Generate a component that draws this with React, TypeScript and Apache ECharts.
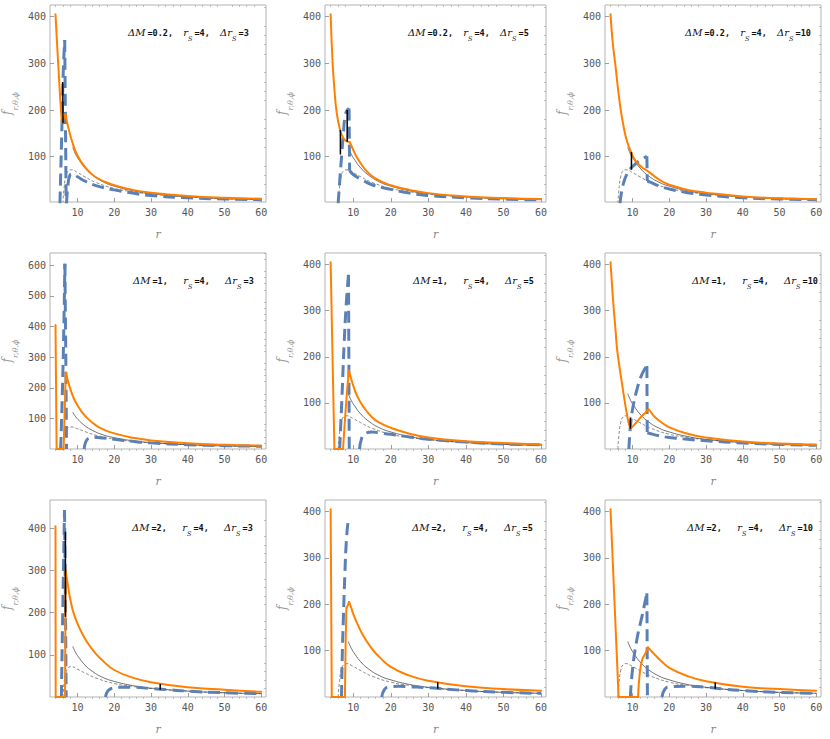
import React, { useEffect, useRef } from "react";
import * as echarts from "echarts";

type Pt = [number, number];
type Seg = Pt[];

// ---- tick labels ----
const X_TICK_LABELS = [10, 20, 30, 40, 50, 60];
const X_MINOR_TICKS = [4, 6, 8, 12, 14, 16, 18, 22, 24, 26, 28, 32, 34, 36, 38, 42, 44, 46, 48, 52, 54, 56, 58];
const Y_TICK_LABELS_400 = [100, 200, 300, 400];
const Y_TICK_LABELS_600 = [100, 200, 300, 400, 500, 600];
const Y_MINOR_400 = [20, 40, 60, 80, 120, 140, 160, 180, 220, 240, 260, 280, 320, 340, 360, 380, 420];
const Y_MINOR_600 = [20, 40, 60, 80, 120, 140, 160, 180, 220, 240, 260, 280, 320, 340, 360, 380, 420, 440, 460, 480, 520, 540, 560, 580, 620, 640];

// ---- common thin curves ----
const THIN_SOLID: Pt[] = [[8.7, 120], [9.5, 105], [10.5, 92], [12, 76], [14, 61], [17, 46], [20, 37], [25, 27], [30, 21], [40, 14], [50, 10], [60, 8]];
const THIN_DASHED: Pt[] = [[6.0, 0], [6.3, 30], [6.8, 58], [7.5, 70], [8.3, 72], [10, 66], [12, 57], [15, 45], [20, 32], [25, 25], [30, 20], [40, 14], [50, 10], [60, 8]];

// ---- ΔM = 0.2, Δrs = 3 ----
const orangeM02R3: Seg[] = [
  [[4, 405], [4.4, 345], [4.8, 290], [5.3, 222], [5.75, 172]],
  [[5.75, 172], [6.7, 191]],
  [[6.7, 191], [7.5, 162], [8.5, 133], [10, 102], [12, 78], [15, 56], [20, 39], [25, 29], [30, 23], [40, 16], [50, 12], [60, 10]],
];
const blueM02R3: Seg[] = [
  [[5.2, 0], [5.7, 150], [6.1, 280], [6.5, 350]],
  [[6.5, 350], [6.7, 180], [6.9, 0]],
  [[7.0, 0], [7.4, 40], [7.9, 60], [8.6, 63], [10, 57], [12, 48], [15, 38], [20, 29], [25, 22], [30, 17], [40, 12], [50, 9.5], [60, 8]],
];
const blackM02R3: Seg[] = [[[5.95, 260], [6.05, 171]]];

// ---- ΔM = 0.2, Δrs = 5 ----
const orangeM02R5: Seg[] = [
  [[4, 405], [4.5, 305], [5.0, 245], [5.6, 195], [6.5, 157], [7.2, 143], [7.8, 136], [8.7, 132], [9.1, 131]],
  [[9.1, 131], [10, 115], [10.9, 100], [12, 86], [13.5, 70], [16, 53], [20, 39], [25, 29], [30, 22], [40, 15], [50, 11.5], [60, 9.5]],
];
const blueM02R5: Seg[] = [
  [[6.0, 0], [6.5, 57], [7.0, 110], [7.4, 150], [7.8, 185], [8.3, 198], [8.9, 203]],
  [[8.9, 203], [9.05, 70]],
  [[9.05, 70], [10, 62], [12, 52], [15, 40], [20, 30], [25, 22], [30, 17], [40, 12], [50, 9], [60, 7.5]],
];
const blackM02R5: Seg[] = [[[6.6, 157], [6.6, 105]], [[8.4, 200], [8.4, 132]]];

// ---- ΔM = 0.2, Δrs = 10 ----
const orangeM02R10: Seg[] = [
  [[4, 405], [4.6, 345], [5.35, 295], [6.0, 248], [6.7, 205], [7.6, 163], [8.5, 133], [9.7, 108], [10.5, 95], [11.5, 85], [12.6, 77], [13.6, 72], [14.5, 67], [16, 58], [18, 47], [20, 40], [25, 29], [30, 23], [40, 15], [50, 11], [60, 9]],
];
const blueM02R10: Seg[] = [
  [[6.6, 0], [7.0, 25], [7.6, 45], [8.3, 60], [9.2, 72], [10, 79], [11, 86], [12, 92], [13, 97], [13.9, 101]],
  [[13.9, 101], [14.0, 48]],
  [[14.0, 48], [15, 45], [17, 38], [20, 31], [25, 23], [30, 18], [40, 12], [50, 9.5], [60, 8]],
];
const blackM02R10: Seg[] = [[[9.7, 110], [9.7, 72]]];

// ---- ΔM = 1, Δrs = 3 ----
const orangeM1R3: Seg[] = [
  [[4, 405], [4.3, 0]],
  [[4.3, 0], [6.2, 0]],
  [[6.2, 0], [6.8, 250]],
  [[6.8, 250], [7.3, 226], [8.2, 190], [9, 165], [10, 142], [11, 124], [12.7, 100], [15, 77], [17, 64], [20, 51], [25, 37], [30, 28], [40, 19], [50, 14], [60, 11]],
];
const blueM1R3: Seg[] = [
  [[5.4, 0], [5.9, 200], [6.3, 420], [6.55, 605]],
  [[6.55, 605], [6.8, 300], [7.0, 0]],
  [[11.8, 0], [12.2, 22], [13, 35], [14.5, 38], [17, 36], [20, 32], [25, 25], [30, 20], [40, 14], [50, 11], [60, 9]],
];
const blackM1R3: Seg[] = [];

// ---- ΔM = 1, Δrs = 5 ----
const orangeM1R5: Seg[] = [
  [[4, 405], [5.0, 0]],
  [[5.0, 0], [7.3, 0]],
  [[7.3, 0], [7.8, 62], [8.3, 118], [8.85, 170]],
  [[8.85, 170], [9.5, 151], [10, 138], [11, 116], [12.6, 93], [15, 69], [17, 57], [20, 46], [25, 33], [30, 25], [40, 17], [50, 13], [60, 10]],
];
const blueM1R5: Seg[] = [
  [[6.4, 0], [7.0, 110], [7.6, 230], [8.2, 320], [8.75, 378]],
  [[8.75, 378], [8.95, 0]],
  [[11.7, 0], [12.2, 22], [13, 32], [15, 37], [17, 35], [20, 32], [25, 26], [30, 21], [40, 15], [50, 11], [60, 9]],
];
const blackM1R5: Seg[] = [];

// ---- ΔM = 1, Δrs = 10 ----
const orangeM1R10: Seg[] = [
  [[4, 405], [4.5, 345], [4.9, 302], [5.4, 255], [5.8, 216], [6.5, 175], [7.2, 138], [7.9, 102], [8.5, 74], [9.0, 54], [9.5, 44]],
  [[9.5, 44], [10.5, 53], [11.5, 62], [12.5, 71], [13.5, 79], [14.3, 86]],
  [[14.3, 86], [15, 80], [16, 70], [18, 57], [20, 47], [25, 33], [30, 25], [40, 16], [50, 12], [60, 9]],
];
const blueM1R10: Seg[] = [
  [[9.0, 0], [9.5, 55], [10.2, 95], [11.2, 129], [12.2, 155], [13.2, 172], [13.9, 180]],
  [[13.9, 180], [14.0, 35]],
  [[14.0, 35], [15, 33], [17, 29], [20, 25], [25, 21], [30, 18], [40, 13], [50, 10], [60, 8]],
];
const blackM1R10: Seg[] = [[[9.4, 68], [9.4, 44]]];

// ---- ΔM = 2, Δrs = 3 ----
const orangeM2R3: Seg[] = [
  [[4, 405], [4.05, 0]],
  [[4.05, 0], [6.6, 0]],
  [[6.6, 0], [6.75, 300]],
  [[6.75, 300], [7.5, 258], [8.2, 224], [9, 197], [10, 174], [11, 155], [12.7, 129], [15, 102], [17, 85], [20, 64], [25, 46], [30, 35], [40, 23], [50, 17], [60, 12.5]],
];
const blueM2R3: Seg[] = [
  [[5.6, 0], [6.0, 220], [6.45, 443]],
  [[6.45, 443], [6.7, 220], [6.9, 0]],
  [[17.6, 0], [18.3, 15], [19.5, 21], [22, 23], [25, 23], [30, 20], [35, 17], [40, 14], [50, 10], [60, 8]],
];
const blackM2R3: Seg[] = [[[6.7, 392], [6.7, 190]], [[32.5, 31], [32.5, 17]]];

// ---- ΔM = 2, Δrs = 5 ----
const orangeM2R5: Seg[] = [
  [[4, 405], [4.3, 0]],
  [[4.3, 0], [7.8, 0]],
  [[7.8, 0], [8.0, 120], [8.2, 192]],
  [[8.2, 192], [8.6, 198], [8.9, 205]],
  [[8.9, 205], [9.5, 192], [10, 180], [11, 160], [12.7, 132], [15, 104], [17, 86], [20, 65], [25, 46], [30, 35], [40, 23], [50, 17], [60, 13.5]],
];
const blueM2R5: Seg[] = [
  [[6.9, 0], [7.1, 90], [7.35, 160], [7.8, 268], [8.2, 339], [8.7, 382], [8.9, 385]],
  [[17.6, 0], [18.3, 16], [19.5, 22], [22, 23], [25, 22], [30, 20], [35, 17], [40, 14], [50, 10], [60, 8]],
];
const blackM2R5: Seg[] = [[[32.5, 32], [32.5, 18]]];

// ---- ΔM = 2, Δrs = 10 ----
const orangeM2R10: Seg[] = [
  [[4, 405], [6.2, 0]],
  [[6.2, 0], [11.5, 0]],
  [[11.5, 0], [11.9, 46], [12.6, 80], [13.5, 94], [14.2, 107]],
  [[14.2, 107], [15, 100], [16.2, 90], [18, 76], [20, 63], [25, 45], [30, 34], [40, 22], [50, 17], [60, 13.5]],
];
const blueM2R10: Seg[] = [
  [[9.4, 0], [10, 60], [11.2, 125], [12.6, 175], [13.9, 224]],
  [[13.9, 224], [14.05, 0]],
  [[18, 0], [18.8, 17], [20, 22], [25, 23], [30, 21], [35, 17], [40, 14], [50, 10], [60, 8]],
];
const blackM2R10: Seg[] = [[[32.5, 32], [32.5, 18]]];

const PANELS = [
  { dm: "0.2", drs: "3", orange: orangeM02R3, blue: blueM02R3, black: blackM02R3, yMin: 3, yMax: 425, yLabels: Y_TICK_LABELS_400, yMinor: Y_MINOR_400 },
  { dm: "0.2", drs: "5", orange: orangeM02R5, blue: blueM02R5, black: blackM02R5, yMin: 3, yMax: 425, yLabels: Y_TICK_LABELS_400, yMinor: Y_MINOR_400 },
  { dm: "0.2", drs: "10", orange: orangeM02R10, blue: blueM02R10, black: blackM02R10, yMin: 3, yMax: 425, yLabels: Y_TICK_LABELS_400, yMinor: Y_MINOR_400 },
  { dm: "1", drs: "3", orange: orangeM1R3, blue: blueM1R3, black: blackM1R3, yMin: 0, yMax: 640, yLabels: Y_TICK_LABELS_600, yMinor: Y_MINOR_600 },
  { dm: "1", drs: "5", orange: orangeM1R5, blue: blueM1R5, black: blackM1R5, yMin: 0, yMax: 425, yLabels: Y_TICK_LABELS_400, yMinor: Y_MINOR_400 },
  { dm: "1", drs: "10", orange: orangeM1R10, blue: blueM1R10, black: blackM1R10, yMin: 0, yMax: 425, yLabels: Y_TICK_LABELS_400, yMinor: Y_MINOR_400 },
  { dm: "2", drs: "3", orange: orangeM2R3, blue: blueM2R3, black: blackM2R3, yMin: 0, yMax: 467, yLabels: Y_TICK_LABELS_400, yMinor: Y_MINOR_400 },
  { dm: "2", drs: "5", orange: orangeM2R5, blue: blueM2R5, black: blackM2R5, yMin: 0, yMax: 425, yLabels: Y_TICK_LABELS_400, yMinor: Y_MINOR_400 },
  { dm: "2", drs: "10", orange: orangeM2R10, blue: blueM2R10, black: blackM2R10, yMin: 0, yMax: 425, yLabels: Y_TICK_LABELS_400, yMinor: Y_MINOR_400 },
];

const ROW_TOP = [5, 253, 500];
const ROW_H = [197, 196, 197];
const COL_LEFT = [45, 325, 605];
const COL_W = [221, 221, 216];
// annotation offsets from each frame's left edge, per row and column
const NOTE_DX = [[83, 83, 80], [88, 88, 87], [87, 87, 82]];
const X_MIN = 2.5;
const X_MAX = 61.3;

const ORANGE = "#ff8000";
const BLUE = "#5b80b6";
const FRAME = "#b3b3b3";
const TICK_TXT = "#555555";
const MONO = "DejaVu Sans Mono";
const SERIF = "DejaVu Serif";
const SMOOTH = 0.5;
const THIN = "\u2009";

function buildOption() {
  const grid: any[] = [];
  const xAxis: any[] = [];
  const yAxis: any[] = [];
  const series: any[] = [];
  const graphic: any[] = [];

  PANELS.forEach((p, i) => {
    const r = Math.floor(i / 3);
    const c = i % 3;
    grid.push({
      left: COL_LEFT[c], top: ROW_TOP[r], width: COL_W[c], height: ROW_H[r],
      show: true, borderColor: FRAME, borderWidth: 1, backgroundColor: "transparent", containLabel: false,
    });
    xAxis.push({
      type: "value", gridIndex: i, min: X_MIN, max: X_MAX,
      axisLine: { show: false }, splitLine: { show: false },
      axisTick: { show: true, inside: true, length: 4, customValues: X_TICK_LABELS, lineStyle: { color: "#888", width: 0.8 } },
      axisLabel: { customValues: X_TICK_LABELS, fontFamily: MONO, fontSize: 10, color: TICK_TXT, margin: 5 },
      name: "r", nameLocation: "middle", nameGap: 27,
      nameTextStyle: { fontFamily: SERIF, fontStyle: "italic", fontSize: 11, color: "#888" },
    });
    yAxis.push({
      type: "value", gridIndex: i, min: p.yMin, max: p.yMax,
      axisLine: { show: false }, splitLine: { show: false },
      axisTick: { show: true, inside: true, length: 4, customValues: p.yLabels, lineStyle: { color: "#888", width: 0.8 } },
      axisLabel: { customValues: p.yLabels, fontFamily: MONO, fontSize: 10, color: TICK_TXT, margin: 4 },
      name: "{f|f}{s|r,θ,ϕ}", nameLocation: "middle", nameGap: 31,
      nameTextStyle: {
        color: "#999",
        rich: {
          f: { fontFamily: SERIF, fontStyle: "italic", fontSize: 12, color: "#999", lineHeight: 18, verticalAlign: "top" },
          s: { fontFamily: SERIF, fontStyle: "italic", fontSize: 8, color: "#999", lineHeight: 18, verticalAlign: "bottom" },
        },
      },
    });

    const ax = { xAxisIndex: i, yAxisIndex: i };
    const base = { type: "line", showSymbol: false, symbol: "none", silent: true, clip: true, ...ax };
    series.push({ ...base, data: THIN_DASHED, smooth: SMOOTH, lineStyle: { color: "#555", width: 0.7, type: [3, 2] } });
    series.push({ ...base, data: THIN_SOLID, smooth: SMOOTH, lineStyle: { color: "#333", width: 0.7 } });
    p.blue.forEach((seg) => {
      series.push({ ...base, data: seg, smooth: seg.length > 2 ? SMOOTH : false, lineStyle: { color: BLUE, width: 3, type: [12, 6] } });
    });
    p.orange.forEach((seg) => {
      series.push({ ...base, data: seg, smooth: seg.length > 2 ? SMOOTH : false, lineStyle: { color: ORANGE, width: 2, cap: "round", join: "round" } });
    });
    p.black.forEach((seg) => {
      series.push({ ...base, data: seg, smooth: false, lineStyle: { color: "#000", width: 1.5 } });
    });

    const sp = r === 0 ? "  " : "   ";
    graphic.push({
      type: "text",
      x: COL_LEFT[c] + NOTE_DX[r][c],
      y: ROW_TOP[r] + 30,
      silent: true,
      style: {
        text: `{i|ΔM}{t|${THIN}}{m|=${p.dm},${sp}}{i|r}{s|S}{t|${THIN}}{m|=4,${sp}}{i|Δr}{s|S}{t|${THIN}}{m|=${p.drs}}`,
        verticalAlign: "middle",
        fill: "#111",
        rich: {
          i: { fontFamily: SERIF, fontStyle: "italic", fontSize: 10, fill: "#111", lineHeight: 15, verticalAlign: "top" },
          t: { fontFamily: SERIF, fontSize: 10, fill: "#111", lineHeight: 15, verticalAlign: "top" },
          m: { fontFamily: MONO, fontWeight: "bold", fontSize: 8.5, fill: "#111", lineHeight: 15, verticalAlign: "top", padding: [1, 0, 0, 0] },
          s: { fontFamily: SERIF, fontStyle: "italic", fontSize: 6.5, fill: "#111", lineHeight: 15, verticalAlign: "bottom" },
        },
      },
    });
  });

  // minor tick axes
  PANELS.forEach((p, i) => {
    xAxis.push({
      type: "value", gridIndex: i, min: X_MIN, max: X_MAX,
      axisLine: { show: false }, splitLine: { show: false }, axisLabel: { show: false },
      axisTick: { show: true, inside: true, length: 2, customValues: X_MINOR_TICKS, lineStyle: { color: "#999", width: 0.6 } },
    });
    yAxis.push({
      type: "value", gridIndex: i, min: p.yMin, max: p.yMax,
      axisLine: { show: false }, splitLine: { show: false }, axisLabel: { show: false },
      axisTick: { show: true, inside: true, length: 2, customValues: p.yMinor.filter((v) => v <= p.yMax), lineStyle: { color: "#999", width: 0.6 } },
    });
  });

  return { animation: false, backgroundColor: "#ffffff", grid, xAxis, yAxis, series, graphic };
}

export default function App() {
  const ref = useRef<HTMLDivElement>(null);
  useEffect(() => {
    if (!ref.current) return;
    const chart = echarts.init(ref.current, undefined, { renderer: "svg" });
    chart.setOption(buildOption() as any);
    return () => chart.dispose();
  }, []);
  return <div ref={ref} style={{ position: "absolute", left: 0, top: 0, width: 830, height: 739, background: "#fff" }} />;
}
